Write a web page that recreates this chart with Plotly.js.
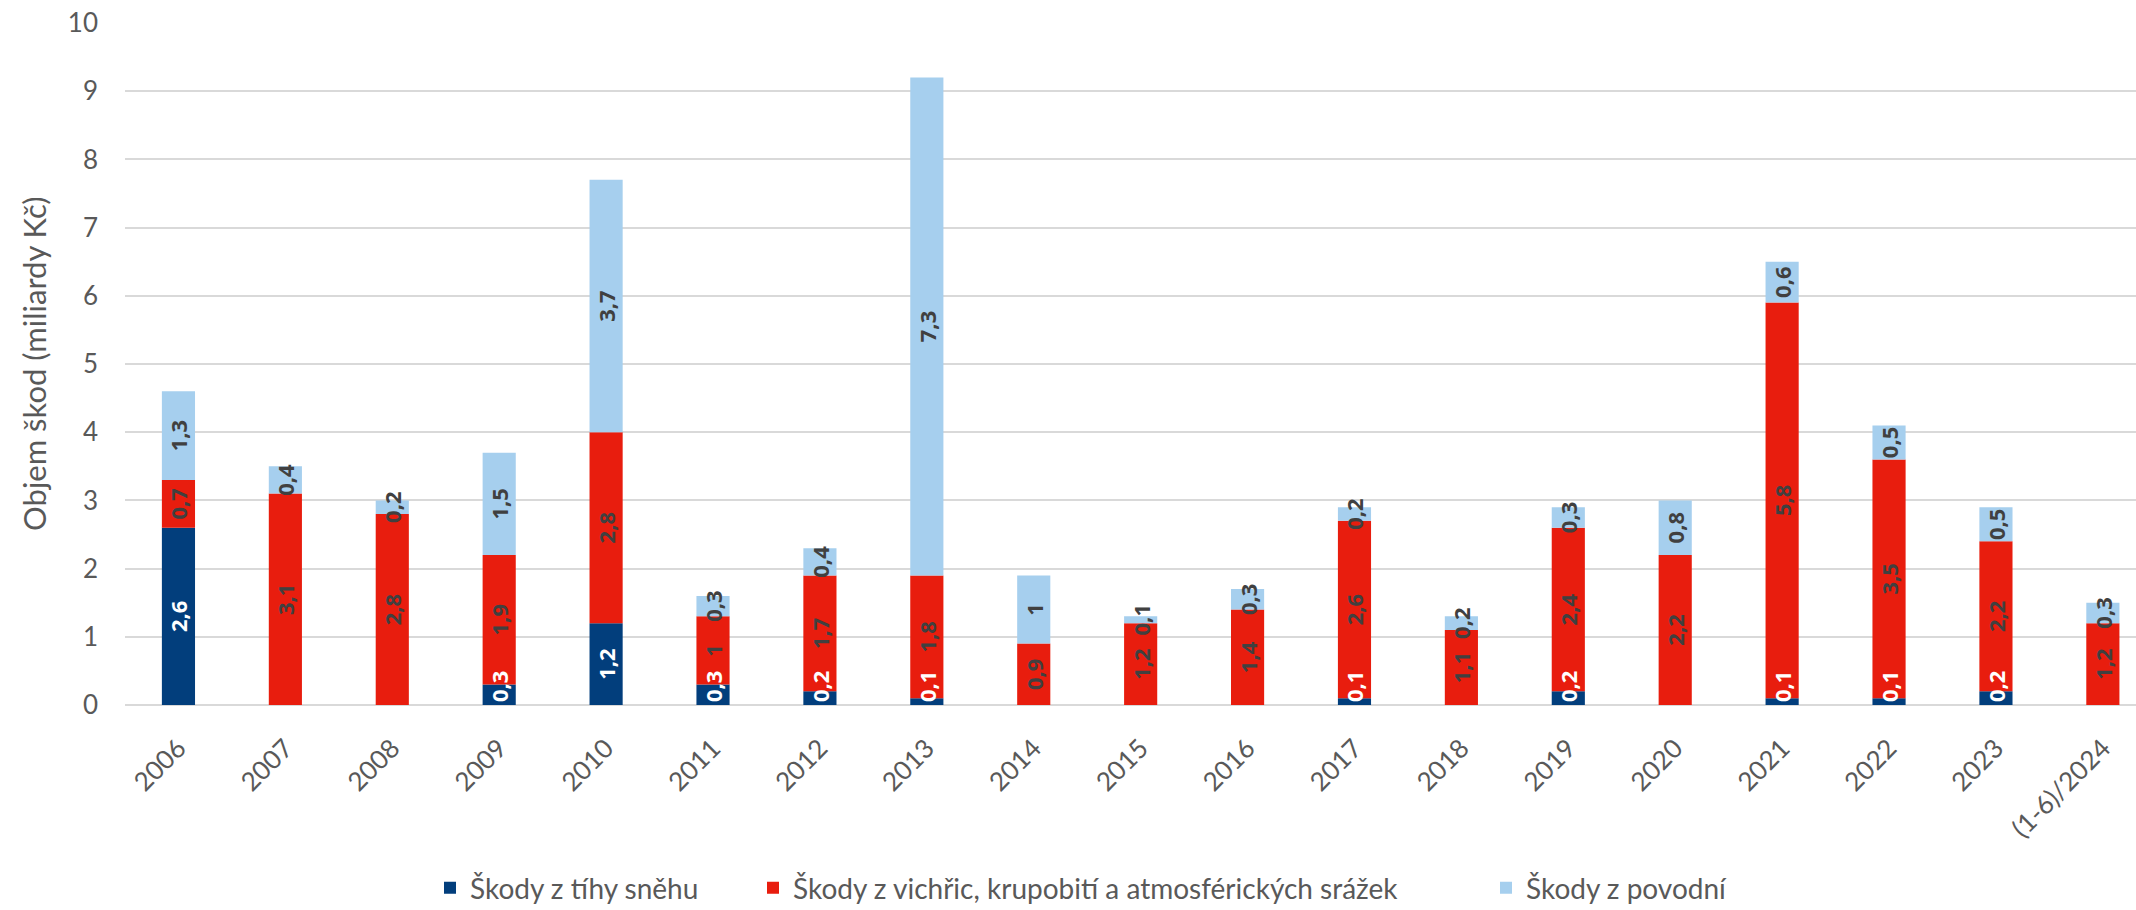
<!DOCTYPE html>
<html>
<head>
<meta charset="utf-8">
<script src="https://cdn.plot.ly/plotly-3.0.1.min.js"></script>
<style>html,body{margin:0;padding:0;background:#fff;}#chart{width:2136px;height:910px;}</style>
</head>
<body>
<div id="chart"></div>
<script>
const categories = ["2006","2007","2008","2009","2010","2011","2012","2013","2014","2015","2016","2017","2018","2019","2020","2021","2022","2023","(1-6)/2024"];
const snowDamage  = [2.6, 0, 0, 0.3, 1.2, 0.3, 0.2, 0.1, 0, 0, 0, 0.1, 0, 0.2, 0, 0.1, 0.1, 0.2, 0];
const stormDamage = [0.7, 3.1, 2.8, 1.9, 2.8, 1, 1.7, 1.8, 0.9, 1.2, 1.4, 2.6, 1.1, 2.4, 2.2, 5.8, 3.5, 2.2, 1.2];
const floodDamage = [1.3, 0.4, 0.2, 1.5, 3.7, 0.3, 0.4, 7.3, 1, 0.1, 0.3, 0.2, 0.2, 0.3, 0.8, 0.6, 0.5, 0.5, 0.3];
const seriesNames = ["Škody z tíhy sněhu", "Škody z vichřic, krupobití a atmosférických srážek", "Škody z povodní"];
const yTitle = "Objem škod (miliardy Kč)";
const yTicks = [0,1,2,3,4,5,6,7,8,9,10];

const fmt = v => v === 0 ? "" : String(v).replace(".", ",");
const FONT = "Lato, 'Open Sans', sans-serif";
const LBL = "'Open Sans', 'DejaVu Sans', sans-serif";

// stacking bases derived from the series
const baseSnow = snowDamage.map(() => 0);
const baseStorm = snowDamage.slice();
const baseFlood = snowDamage.map((v, i) => v + stormDamage[i]);

const BW = 0.31;
function barTrace(vals, base, name, color, legendId) {
  return {
    type: "bar", x: categories, y: vals, base: base, name: name,
    legend: legendId, width: BW,
    marker: {color: color, line: {width: 0}},
    hoverinfo: "x+y+name"
  };
}
function labelTrace(vals, base, txtColor, texts, anchor) {
  const f = {family: LBL, size: 22, color: txtColor, weight: "bold"};
  return {
    type: "bar", x: categories, y: vals, base: base, width: BW,
    showlegend: false, hoverinfo: "skip",
    marker: {color: "rgba(0,0,0,0)", line: {width: 0}},
    text: texts,
    textposition: "inside", insidetextanchor: anchor,
    textangle: -90, constraintext: "none",
    insidetextfont: f, textfont: f, cliponaxis: false
  };
}

// small snow segments: label starts at the bar base (as in the original), others centred
const snowBig = snowDamage.map(v => v >= 0.5 ? fmt(v) : "");
const snowSmall = snowDamage.map(v => v < 0.5 ? fmt(v) : "");

const data = [
  barTrace(snowDamage, baseSnow, seriesNames[0], "#023E7C", "legend"),
  barTrace(stormDamage, baseStorm, seriesNames[1], "#E81D0E", "legend2"),
  barTrace(floodDamage, baseFlood, seriesNames[2], "#A6CFEE", "legend3"),
  labelTrace(snowDamage, baseSnow, "#FFFFFF", snowBig, "middle"),
  labelTrace(snowDamage, baseSnow, "#FFFFFF", snowSmall, "start"),
  labelTrace(stormDamage, baseStorm, "#404040", stormDamage.map(fmt), "middle"),
  labelTrace(floodDamage, baseFlood, "#404040", floodDamage.map(fmt), "middle")
];

const legBase = {orientation: "h", xref: "container", yref: "container", xanchor: "left", yanchor: "middle",
  y: 0.024, font: {family: FONT, size: 28, color: "#595959"}, bgcolor: "rgba(0,0,0,0)", borderwidth: 0};

const layout = {
  width: 2136, height: 910,
  margin: {l: 125, r: 0, t: 23, b: 205},
  paper_bgcolor: "#fff", plot_bgcolor: "#fff",
  barmode: "overlay",
  showlegend: true,
  legend: Object.assign({}, legBase, {x: 430/2136}),
  legend2: Object.assign({}, legBase, {x: 753/2136}),
  legend3: Object.assign({}, legBase, {x: 1486/2136}),
  xaxis: {
    type: "category", range: [-0.5, 18.31],
    tickangle: -45, ticks: "", showgrid: false, showline: false, zeroline: false,
    tickfont: {family: FONT, size: 26, color: "#595959"},
    ticklabelstandoff: 22
  },
  yaxis: {
    range: [0, 10], tickvals: yTicks, ticktext: yTicks.map(String),
    ticks: "", showline: false,
    showgrid: true, gridcolor: "#D9D9D9", gridwidth: 2,
    zeroline: true, zerolinecolor: "#D9D9D9", zerolinewidth: 2,
    tickfont: {family: FONT, size: 26, color: "#595959"},
    ticklabelstandoff: 26
  },
  annotations: [{
    text: yTitle, textangle: -90, showarrow: false,
    xref: "paper", yref: "paper", x: (34 - 125) / 2011, y: 0.5,
    xanchor: "center", yanchor: "middle",
    font: {family: FONT, size: 31, color: "#595959"}
  }]
};

Plotly.newPlot("chart", data, layout, {displayModeBar: false, staticPlot: true});
</script>
</body>
</html>
